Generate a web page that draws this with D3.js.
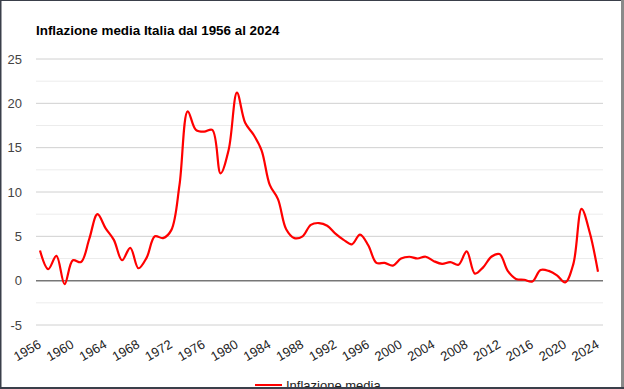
<!DOCTYPE html>
<html>
<head>
<meta charset="utf-8">
<script src="https://cdn.jsdelivr.net/npm/d3@7"></script>
<style>
  body { margin: 0; background: #fff; }
  svg { display: block; font-family: "Liberation Sans", Arial, sans-serif; }
</style>
</head>
<body>
<div id="chart"></div>
<script>
  const years = d3.range(1956, 2025)
  const inflazione = [
    3.4, 1.3, 2.8, -0.4, 2.3, 2.1, 4.7, 7.5, 5.9, 4.6,
    2.3, 3.7, 1.4, 2.6, 5.0, 4.8, 5.7, 10.8, 19.1, 17.0,
    16.8, 17.0, 12.1, 14.8, 21.2, 17.8, 16.5, 14.7, 10.8, 9.2,
    5.8, 4.8, 5.0, 6.3, 6.5, 6.2, 5.3, 4.6, 4.1, 5.2,
    4.0, 2.0, 2.0, 1.7, 2.5, 2.7, 2.5, 2.7, 2.2, 1.9,
    2.1, 1.8, 3.3, 0.8, 1.5, 2.7, 3.0, 1.1, 0.2, 0.1,
    -0.1, 1.2, 1.1, 0.6, -0.2, 1.9, 8.1, 5.4, 1.0
  ]
  const yTicks = [-5, 0, 5, 10, 15, 20, 25]
  const xTicks = d3.range(1956, 2025, 4)

  const W = 624, H = 389
  const data = years.map((y, i) => ({ year: y, value: inflazione[i] }))

  const svg = d3.select('#chart').append('svg')
    .attr('width', W)
    .attr('height', H)

  const x = d3.scaleLinear().domain([1956, 2024]).range([40, 598])
  const y = d3.scaleLinear().domain([-5, 25]).range([325, 59])

  // minor grid
  svg.append('g')
    .selectAll('line')
    .data(d3.range(-2.5, 25, 5))
    .join('line')
    .attr('x1', 36).attr('x2', 603)
    .attr('y1', d => y(d)).attr('y2', d => y(d))
    .attr('stroke', '#ececec')

  // major grid
  svg.append('g')
    .selectAll('line')
    .data(yTicks)
    .join('line')
    .attr('x1', 36).attr('x2', 603)
    .attr('y1', d => y(d)).attr('y2', d => y(d))
    .attr('stroke', d => d === 0 ? '#777' : '#d0d0d0')
    .attr('stroke-width', d => d === 0 ? 1.5 : 1)

  // y labels
  svg.append('g')
    .selectAll('text')
    .data(yTicks)
    .join('text')
    .attr('x', 22)
    .attr('y', d => y(d))
    .attr('dy', '0.35em')
    .attr('text-anchor', 'end')
    .attr('font-size', 13)
    .attr('fill', '#444')
    .text(d => d)

  // x labels (slanted)
  svg.append('g')
    .selectAll('text')
    .data(xTicks)
    .join('text')
    .attr('transform', d => `translate(${x(d) + 2},${347}) rotate(-30)`)
    .attr('text-anchor', 'end')
    .attr('font-size', 13)
    .attr('fill', '#222')
    .text(d => d)

  // line
  const line = d3.line()
    .x(d => x(d.year))
    .y(d => y(d.value))
    .curve(d3.curveCatmullRom.alpha(0.5))

  svg.append('path')
    .datum(data)
    .attr('d', line)
    .attr('fill', 'none')
    .attr('stroke', '#ff0000')
    .attr('stroke-width', 2.2)

  // title
  svg.append('text')
    .attr('x', 36)
    .attr('y', 35)
    .attr('font-size', 13.4)
    .attr('font-weight', 'bold')
    .attr('fill', '#000')
    .text('Inflazione media Italia dal 1956 al 2024')

  // legend (cut by the bottom frame, as in the reference)
  svg.append('line')
    .attr('x1', 255).attr('x2', 282)
    .attr('y1', 385).attr('y2', 385)
    .attr('stroke', '#ff0000')
    .attr('stroke-width', 2)
  svg.append('text')
    .attr('x', 286)
    .attr('y', 390)
    .attr('font-size', 13)
    .attr('fill', '#222')
    .text('Inflazione media')

  // screenshot frame
  svg.append('rect').attr('x', 0).attr('y', 0).attr('width', W).attr('height', 1).attr('fill', '#3a3f4a')
  svg.append('rect').attr('x', 0).attr('y', 0).attr('width', 1.5).attr('height', H).attr('fill', '#3a3f4a')
  svg.append('rect').attr('x', 621).attr('y', 0).attr('width', 3).attr('height', H).attr('fill', '#8a8a8a')
  svg.append('rect').attr('x', 0).attr('y', 387).attr('width', W).attr('height', 2).attr('fill', '#3a3f4a')
</script>
</body>
</html>
